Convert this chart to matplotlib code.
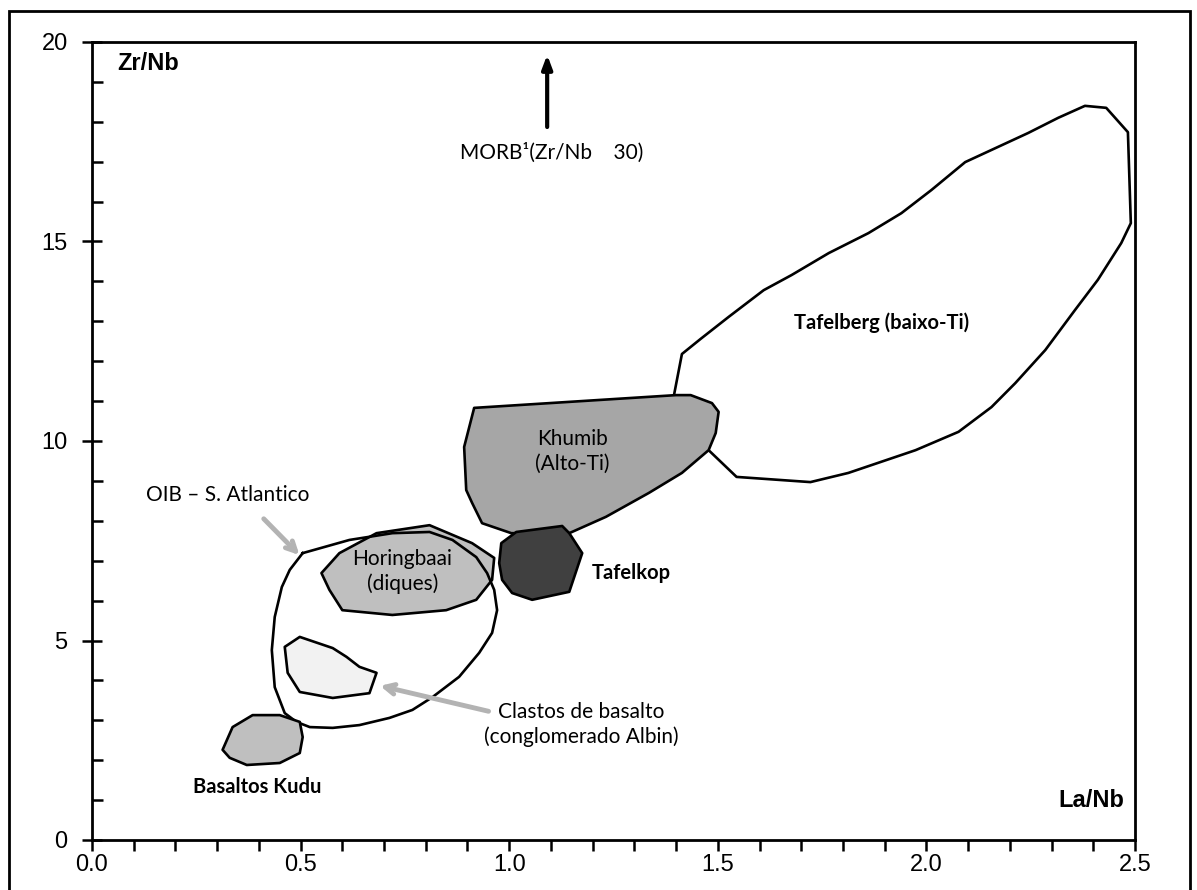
import matplotlib
matplotlib.use("Agg")
import matplotlib.pyplot as plt
from matplotlib.patches import Polygon, Rectangle
from matplotlib.ticker import MultipleLocator

# ---- data (La/Nb, Zr/Nb) ----
tafelberg_x = [1.395, 1.414, 1.459, 1.526, 1.610, 1.677, 1.766, 1.861, 1.940, 2.012, 2.093,
               2.244, 2.316, 2.380, 2.431, 2.483, 2.490, 2.467, 2.411, 2.356, 2.285, 2.213,
               2.156, 2.077, 1.974, 1.813, 1.722, 1.545, 1.478, 1.300]
tafelberg_y = [11.15, 12.18, 12.56, 13.11, 13.78, 14.16, 14.71, 15.21, 15.71, 16.29, 16.99,
               17.72, 18.10, 18.40, 18.35, 17.74, 15.46, 14.96, 14.04, 13.28, 12.28, 11.45,
               10.85, 10.23, 9.77, 9.20, 8.97, 9.10, 9.77, 10.0]

khumib_x = [0.916, 0.892, 0.897, 0.911, 0.935, 1.005, 1.144, 1.232, 1.335, 1.414, 1.478,
            1.495, 1.502, 1.486, 1.435, 1.400]
khumib_y = [10.83, 9.85, 8.77, 8.45, 7.94, 7.69, 7.69, 8.10, 8.70, 9.20, 9.77,
            10.20, 10.73, 10.95, 11.15, 11.15]

tafelkop_x = [0.981, 1.017, 1.127, 1.144, 1.175, 1.144, 1.055, 1.007, 0.983, 0.976]
tafelkop_y = [7.44, 7.72, 7.87, 7.69, 7.19, 6.22, 6.02, 6.19, 6.52, 6.94]

horingbaai_x = [0.550, 0.593, 0.682, 0.809, 0.911, 0.964, 0.959, 0.921, 0.849, 0.720, 0.600, 0.569]
horingbaai_y = [6.69, 7.19, 7.69, 7.89, 7.44, 7.07, 6.52, 6.02, 5.76, 5.64, 5.76, 6.27]

oib_x = [0.505, 0.474, 0.455, 0.438, 0.431, 0.438, 0.462, 0.490, 0.522, 0.577, 0.641, 0.713,
         0.768, 0.816, 0.880, 0.928, 0.959, 0.971, 0.964, 0.947, 0.921, 0.864, 0.809, 0.720,
         0.617, 0.505]
oib_y = [7.19, 6.77, 6.34, 5.59, 4.76, 3.83, 3.18, 2.96, 2.83, 2.81, 2.88, 3.06,
         3.26, 3.58, 4.09, 4.69, 5.19, 5.76, 6.27, 6.69, 7.09, 7.52, 7.72, 7.69,
         7.52, 7.19]

clastos_x = [0.498, 0.577, 0.610, 0.641, 0.682, 0.665, 0.577, 0.498, 0.469, 0.462]
clastos_y = [5.09, 4.81, 4.59, 4.34, 4.19, 3.68, 3.56, 3.71, 4.19, 4.84]

kudu_x = [0.337, 0.385, 0.450, 0.498, 0.505, 0.498, 0.450, 0.371, 0.330, 0.313]
kudu_y = [2.83, 3.13, 3.13, 2.96, 2.58, 2.18, 1.93, 1.88, 2.06, 2.26]

x_ticks = [0.0, 0.5, 1.0, 1.5, 2.0, 2.5]
x_ticklabels = ["0.0", "0.5", "1.0", "1.5", "2.0", "2.5"]
y_ticks = [0, 5, 10, 15, 20]
y_ticklabels = ["0", "5", "10", "15", "20"]

# ---- figure ----
fig = plt.figure(figsize=(11.97, 8.90), dpi=100)
ax = fig.add_axes([92/1197, 1-840/890, (1135-92)/1197, (840-42)/890])
ax.set_xlim(0, 2.5)
ax.set_ylim(0, 20)

# outer border
fig.patches.append(Rectangle((9/1197, -0.01), (1190-9)/1197, 1-11/890+0.01,
                             transform=fig.transFigure, fill=False, edgecolor='black',
                             linewidth=2, zorder=0))

lw = 1.9
def poly(xs, ys, fc, z, fill=True, closed=True):
    p = Polygon(list(zip(xs, ys)), closed=closed, facecolor=fc if fill else 'none',
                edgecolor='black', linewidth=lw, zorder=z, joinstyle='round')
    ax.add_patch(p)

poly(tafelberg_x, tafelberg_y, 'white', 2)
poly(khumib_x, khumib_y, '#a6a6a6', 3)
poly(horingbaai_x, horingbaai_y, '#bfbfbf', 3)
poly(clastos_x, clastos_y, '#f2f2f2', 3)
ax.plot(oib_x, oib_y, color='black', linewidth=lw, zorder=4)
poly(kudu_x, kudu_y, '#bfbfbf', 5)
poly(tafelkop_x, tafelkop_y, '#404040', 5)

# ticks
ax.xaxis.set_minor_locator(MultipleLocator(0.1))
ax.yaxis.set_minor_locator(MultipleLocator(1))
ax.set_xticks(x_ticks)
ax.set_xticklabels(x_ticklabels)
ax.set_yticks(y_ticks)
ax.set_yticklabels(y_ticklabels)
ax.tick_params(axis='x', which='both', direction='out', length=8, width=1.8, pad=2,
               labelsize=17)
ax.tick_params(axis='y', which='major', direction='inout', length=15, width=1.8, pad=10,
               labelsize=17)
ax.tick_params(axis='y', which='minor', direction='in', length=8, width=1.8)
for lab in ax.get_xticklabels() + ax.get_yticklabels():
    lab.set_family('Liberation Sans')
for sp in ax.spines.values():
    sp.set_linewidth(2)

# labels
ax.text(0.06, 19.47, "Zr/Nb", family='Liberation Sans', fontweight='bold', fontsize=17,
        va='center', ha='left')
ax.text(2.475, 1.0, "La/Nb", family='Liberation Sans', fontweight='bold', fontsize=17,
        va='center', ha='right')

txt = dict(family='Lato', fontsize=15)
btxt = dict(family='Lato', fontsize=14.5, fontweight='bold')
ax.text(1.103, 17.22, "MORB\u00b9(Zr/Nb    30)", ha='center', va='center', **txt)
ax.annotate("", xy=(1.091, 19.75), xytext=(1.091, 17.8),
            arrowprops=dict(arrowstyle='-|>,head_length=0.8,head_width=0.3', color='black', lw=3))
ax.text(1.892, 12.96, "Tafelberg (baixo-Ti)", ha='center', va='center', **btxt)
ax.text(1.151, 9.75, "Khumib\n(Alto-Ti)", ha='center', va='center', linespacing=1.3, zorder=6, **txt)
ax.text(1.199, 6.69, "Tafelkop", ha='left', va='center', **btxt)
ax.text(0.744, 6.73, "Horingbaai\n(diques)", ha='center', va='center', linespacing=1.3, zorder=6, **txt)
ax.text(0.325, 8.65, "OIB \u2013 S. Atlantico", ha='center', va='center', **txt)
ax.text(1.172, 2.9, "Clastos de basalto\n(conglomerado Albin)", ha='center', va='center',
        linespacing=1.25, **txt)
ax.text(0.397, 1.33, "Basaltos Kudu", ha='center', va='center', **btxt)

arrow_gray = '#b3b3b3'
ax.annotate("", xy=(0.502, 7.09), xytext=(0.407, 8.10),
            arrowprops=dict(arrowstyle='->,head_length=0.7,head_width=0.35', color=arrow_gray, lw=3.5),
            zorder=6)
ax.annotate("", xy=(0.684, 3.88), xytext=(0.957, 3.21),
            arrowprops=dict(arrowstyle='->,head_length=0.7,head_width=0.35', color=arrow_gray, lw=3.5),
            zorder=6)

fig.savefig("out.png", dpi=100)
